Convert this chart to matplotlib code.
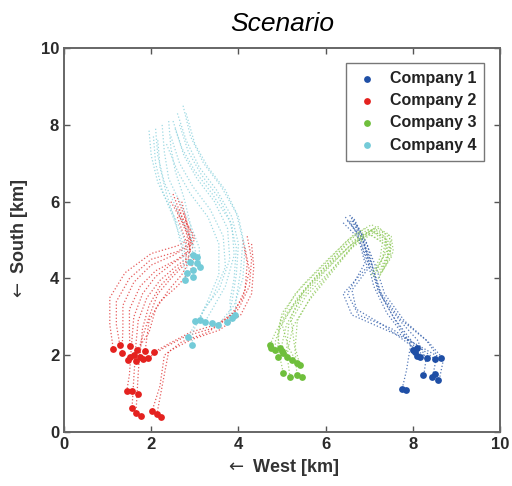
"""
Scenario: company trajectories (dotted paths) with end positions (dots).
"""

from matplotlib import pyplot as plt

plt.rcParams['font.family'] = ['Liberation Sans', 'DejaVu Sans']

companies = ['Company 1', 'Company 2', 'Company 3', 'Company 4']
dot_colors = ['#1f4fa6', '#e4221f', '#6fbf3c', '#74cbd8']
line_colors = ['#2d5aa8', '#e03535', '#8cc856', '#86d0dc']

# Company 1 (blue) waypoints
paths_c1 = [
    [(6.45, 5.6), (6.7, 5.2), (6.95, 4.5), (7.1, 3.8), (7.4, 3.1), (7.8, 2.5), (8.05, 2.1)],
    [(6.55, 5.65), (6.8, 5.15), (7.05, 4.4), (7.2, 3.7), (7.55, 3.0), (7.95, 2.4), (8.15, 1.95)],
    [(6.6, 5.5), (6.85, 5.0), (7.0, 4.3), (6.6, 3.7), (6.7, 3.2), (7.3, 2.8), (7.9, 2.3), (8.3, 1.95)],
    [(6.4, 5.45), (6.75, 5.05), (6.9, 4.4), (6.5, 3.6), (6.75, 3.05), (7.5, 2.7), (8.1, 2.25), (8.5, 1.9)],
    [(6.7, 5.4), (6.95, 4.9), (7.1, 4.2), (7.3, 3.5), (7.7, 2.9), (8.1, 2.4), (8.3, 1.9), (8.25, 1.5)],
    [(6.65, 5.55), (6.9, 5.0), (7.15, 4.3), (7.35, 3.6), (7.8, 2.9), (8.3, 2.4), (8.55, 2.0), (8.45, 1.45)],
    [(6.5, 5.5), (6.8, 5.1), (7.05, 4.35), (7.25, 3.65), (7.7, 2.95), (8.35, 2.35), (8.7, 1.9), (8.6, 1.35)],
    [(6.6, 5.6), (6.85, 5.1), (7.0, 4.4), (7.2, 3.7), (7.6, 2.9), (7.95, 2.3), (7.85, 1.6), (7.75, 1.12)],
    [(6.55, 5.5), (6.8, 5.0), (6.95, 4.3), (6.4, 3.6), (6.6, 3.05), (7.2, 2.75), (7.9, 2.4), (8.6, 1.95)],
]
ends_c1 = [(8.05, 2.08), (8.1, 1.98), (8.17, 1.95), (8.33, 1.93), (8.5, 1.9), (8.65, 1.92),
           (8.23, 1.48), (8.44, 1.43), (8.58, 1.35), (8.5, 1.5), (7.75, 1.12), (7.85, 1.1),
           (8.0, 2.15), (8.1, 2.2)]

# Company 2 (red) waypoints
paths_c2 = [
    [(2.5, 6.2), (2.7, 5.6), (3.0, 5.1), (2.6, 4.85), (2.0, 4.65), (1.4, 4.15), (1.05, 3.5), (1.05, 2.8), (1.13, 2.16)],
    [(2.6, 6.1), (2.8, 5.5), (3.0, 5.0), (2.6, 4.7), (2.0, 4.5), (1.5, 4.0), (1.2, 3.4), (1.2, 2.8), (1.28, 2.27)],
    [(2.45, 6.0), (2.75, 5.4), (2.95, 4.9), (2.5, 4.6), (2.0, 4.35), (1.6, 3.9), (1.35, 3.3), (1.35, 2.7), (1.33, 2.07)],
    [(2.7, 6.0), (2.85, 5.3), (2.95, 4.8), (2.6, 4.5), (2.1, 4.2), (1.75, 3.8), (1.5, 3.2), (1.5, 2.6), (1.51, 2.24)],
    [(2.55, 5.9), (2.8, 5.2), (2.9, 4.7), (2.5, 4.4), (2.1, 4.05), (1.8, 3.6), (1.6, 3.0), (1.55, 2.3), (1.5, 1.5), (1.44, 1.07)],
    [(2.65, 5.8), (2.85, 5.1), (2.9, 4.6), (2.55, 4.3), (2.2, 3.95), (1.9, 3.5), (1.7, 2.9), (1.65, 2.3), (1.6, 1.4), (1.56, 0.63)],
    [(2.75, 5.7), (2.9, 5.0), (2.85, 4.5), (2.5, 4.15), (2.2, 3.8), (1.95, 3.3), (1.8, 2.7), (1.74, 1.95)],
    [(2.6, 5.6), (2.8, 4.95), (2.8, 4.4), (2.45, 4.0), (2.15, 3.6), (1.95, 3.0), (1.75, 2.3), (1.7, 1.5), (1.65, 0.5)],
    [(4.2, 5.1), (4.3, 4.5), (4.25, 3.8), (4.0, 3.2), (3.5, 2.8), (2.9, 2.6), (2.4, 2.3), (2.06, 2.08)],
    [(4.1, 5.0), (4.2, 4.4), (4.15, 3.7), (3.9, 3.1), (3.4, 2.7), (2.8, 2.5), (2.3, 2.2), (1.93, 1.93)],
    [(4.3, 4.9), (4.35, 4.3), (4.3, 3.6), (4.05, 3.05), (3.55, 2.65), (2.9, 2.4), (2.4, 2.1), (2.3, 1.5), (2.13, 0.47)],
    [(4.15, 4.8), (4.25, 4.2), (4.1, 3.5), (3.8, 3.0), (3.3, 2.6), (2.7, 2.35), (2.3, 2.0), (2.2, 1.2), (2.02, 0.55)],
    [(3.0, 4.6), (2.9, 4.2), (2.6, 3.8), (2.2, 3.4), (1.95, 2.9), (1.86, 2.11)],
    [(2.9, 4.5), (2.7, 4.1), (2.4, 3.7), (2.1, 3.2), (1.95, 2.6), (1.6, 2.0)],
]
ends_c2 = [(1.13, 2.16), (1.28, 2.27), (1.33, 2.07), (1.51, 2.24), (1.51, 1.96), (1.6, 2.0),
           (1.68, 2.14), (1.74, 1.95), (1.86, 2.11), (1.93, 1.93), (2.06, 2.08), (1.47, 1.88),
           (1.8, 1.9), (1.65, 1.85), (1.44, 1.07), (1.56, 1.07), (1.7, 0.98), (1.56, 0.63),
           (1.65, 0.5), (1.77, 0.42), (2.02, 0.55), (2.13, 0.47), (2.22, 0.39)]

# Company 3 (green) waypoints
paths_c3 = [
    [(7.25, 4.15), (7.45, 4.6), (7.5, 5.0), (7.2, 5.35), (6.8, 5.1), (6.2, 4.5), (5.6, 3.8), (5.1, 3.1), (4.85, 2.6), (4.72, 2.27)],
    [(7.15, 4.2), (7.35, 4.65), (7.4, 5.05), (7.1, 5.3), (6.7, 5.0), (6.1, 4.35), (5.5, 3.65), (5.05, 2.95), (4.85, 2.4), (4.84, 2.14)],
    [(7.3, 4.3), (7.5, 4.75), (7.45, 5.15), (7.05, 5.4), (6.65, 5.15), (6.05, 4.5), (5.45, 3.8), (5.0, 3.1), (4.9, 2.5), (4.95, 2.18)],
    [(7.1, 4.05), (7.3, 4.5), (7.35, 4.9), (7.0, 5.15), (6.55, 4.85), (6.0, 4.2), (5.45, 3.5), (5.1, 2.8), (5.0, 2.3), (5.03, 2.05)],
    [(7.2, 4.0), (7.4, 4.4), (7.45, 4.85), (7.1, 5.2), (6.6, 4.8), (6.1, 4.1), (5.6, 3.4), (5.25, 2.75), (5.15, 2.25), (5.11, 1.96)],
    [(7.05, 4.1), (7.25, 4.55), (7.3, 4.95), (6.95, 5.2), (6.5, 4.9), (5.9, 4.2), (5.35, 3.5), (5.0, 2.8), (5.15, 2.2), (5.34, 1.8)],
    [(7.3, 4.2), (7.55, 4.7), (7.5, 5.1), (7.1, 5.3), (6.75, 5.0), (6.2, 4.3), (5.7, 3.6), (5.35, 2.9), (5.3, 2.2), (5.41, 1.74)],
    [(7.15, 4.25), (7.4, 4.7), (7.35, 5.1), (6.9, 5.3), (6.5, 5.0), (5.95, 4.35), (5.3, 3.6), (4.95, 2.9), (4.9, 2.2), (5.03, 1.53)],
    [(7.25, 4.1), (7.5, 4.55), (7.45, 4.95), (7.1, 5.25), (6.7, 4.95), (6.15, 4.25), (5.55, 3.55), (5.15, 2.8), (5.1, 2.1), (5.18, 1.44)],
    [(7.2, 4.15), (7.42, 4.62), (7.4, 5.0), (7.0, 5.28), (6.6, 5.05), (6.05, 4.4), (5.5, 3.7), (5.2, 3.0), (5.3, 2.1), (5.34, 1.48)],
]
ends_c3 = [(4.72, 2.27), (4.75, 2.2), (4.84, 2.14), (4.95, 2.18), (5.03, 2.05), (4.91, 1.96),
           (5.11, 1.96), (5.23, 1.88), (5.34, 1.8), (5.41, 1.74), (5.03, 1.53), (5.18, 1.44),
           (5.34, 1.48), (5.46, 1.44), (5.0, 2.1)]

# Company 4 (cyan) waypoints
paths_c4 = [
    [(1.95, 7.85), (2.0, 7.2), (2.15, 6.5), (2.45, 5.8), (2.7, 5.2), (2.85, 4.7), (2.89, 4.43)],
    [(2.1, 7.9), (2.15, 7.2), (2.3, 6.5), (2.55, 5.9), (2.8, 5.3), (3.0, 4.8), (3.05, 4.4)],
    [(2.25, 8.0), (2.3, 7.3), (2.4, 6.6), (2.65, 6.0), (2.9, 5.4), (3.1, 4.8), (3.12, 4.3)],
    [(2.05, 7.7), (2.1, 7.0), (2.25, 6.3), (2.5, 5.6), (2.7, 5.0), (2.8, 4.5), (2.82, 4.14)],
    [(2.4, 8.1), (2.45, 7.4), (2.55, 6.8), (2.75, 6.1), (2.9, 5.4), (2.95, 4.7), (2.96, 4.22)],
    [(2.15, 7.6), (2.2, 6.9), (2.35, 6.2), (2.55, 5.5), (2.7, 4.8), (2.78, 3.96)],
    [(2.73, 8.5), (2.9, 7.7), (3.2, 7.0), (3.6, 6.4), (3.95, 5.7), (4.1, 5.0), (4.05, 4.2), (3.95, 3.5), (3.92, 3.05)],
    [(2.6, 8.3), (2.8, 7.6), (3.1, 6.9), (3.5, 6.3), (3.85, 5.6), (4.0, 4.9), (3.95, 4.1), (3.85, 3.4), (3.74, 2.87)],
    [(2.5, 8.1), (2.7, 7.4), (3.0, 6.8), (3.4, 6.2), (3.8, 5.5), (3.95, 4.8), (3.9, 4.0), (3.8, 3.4), (3.85, 2.97)],
    [(2.8, 8.3), (3.0, 7.5), (3.3, 6.9), (3.7, 6.3), (4.0, 5.6), (4.15, 4.8), (4.1, 4.0), (3.9, 3.3), (3.53, 2.79)],
    [(2.65, 8.0), (2.85, 7.3), (3.15, 6.7), (3.55, 6.1), (3.85, 5.4), (3.9, 4.6), (3.7, 3.8), (3.4, 3.2), (3.23, 2.87)],
    [(2.55, 7.9), (2.75, 7.2), (3.05, 6.6), (3.45, 6.0), (3.75, 5.3), (3.8, 4.5), (3.55, 3.7), (3.2, 3.2), (3.12, 2.92)],
    [(2.45, 7.7), (2.65, 7.0), (2.95, 6.4), (3.35, 5.8), (3.65, 5.1), (3.7, 4.3), (3.4, 3.5), (3.0, 2.8), (2.84, 2.47)],
    [(2.35, 7.5), (2.6, 6.8), (2.9, 6.2), (3.3, 5.6), (3.55, 4.9), (3.55, 4.1), (3.25, 3.3), (2.95, 2.6), (2.94, 2.27)],
]
ends_c4 = [(2.89, 4.43), (3.05, 4.4), (3.12, 4.3), (2.96, 4.22), (2.82, 4.14), (2.78, 3.96),
           (2.96, 4.04), (2.95, 4.6), (3.05, 4.55), (3.12, 2.92), (3.23, 2.87), (3.39, 2.83),
           (3.53, 2.79), (3.74, 2.87), (3.85, 2.97), (3.92, 3.05), (3.0, 2.9), (2.84, 2.47),
           (2.94, 2.27)]

all_paths = [paths_c1, paths_c2, paths_c3, paths_c4]
all_ends = [ends_c1, ends_c2, ends_c3, ends_c4]


def main():
    fig = plt.figure(figsize=(5.12, 4.86), dpi=100)
    ax = fig.add_axes([0.125, 0.111, 0.852, 0.790])

    for paths, ends, lc, dc, name in zip(all_paths, all_ends, line_colors, dot_colors, companies):
        for p in paths:
            xs = [pt[0] for pt in p]
            ys = [pt[1] for pt in p]
            ax.plot(xs, ys, linestyle=':', lw=0.9, color=lc, alpha=0.8)
        ax.scatter([e[0] for e in ends], [e[1] for e in ends], s=24, color=dc,
                   zorder=3, label=name, linewidths=0)

    ax.set_xlim(0, 10)
    ax.set_ylim(0, 10)
    ax.set_xticks([0, 2, 4, 6, 8, 10])
    ax.set_yticks([0, 2, 4, 6, 8, 10])
    ax.tick_params(direction='in', length=4, width=1, colors='#555555',
                   top=True, right=True, labelsize=12, labelcolor='#2a2a2a')
    for lab in ax.get_xticklabels() + ax.get_yticklabels():
        lab.set_fontweight('bold')
    for s in ax.spines.values():
        s.set_color('#666666')
        s.set_linewidth(1.4)

    ax.set_title('Scenario', fontsize=19, style='italic', pad=12)
    ax.set_xlabel(r'$\leftarrow$ West [km]', fontsize=13, fontweight='bold',
                  color='#333333', labelpad=4)
    ax.set_ylabel(r'$\leftarrow$ South [km]', fontsize=13, fontweight='bold',
                  color='#333333', labelpad=8)

    leg = ax.legend(loc='upper right', bbox_to_anchor=(0.963, 0.961), borderaxespad=0,
                    prop={'size': 11.5, 'weight': 'bold'}, fancybox=False,
                    handletextpad=0.6, labelspacing=0.45, markerscale=1.0,
                    borderpad=0.5, handlelength=1.6)
    leg.get_frame().set_edgecolor('#555555')
    leg.get_frame().set_linewidth(1.0)
    for t in leg.get_texts():
        t.set_color('#222222')

    fig.savefig('out.png', dpi=100)


if __name__ == '__main__':
    main()
